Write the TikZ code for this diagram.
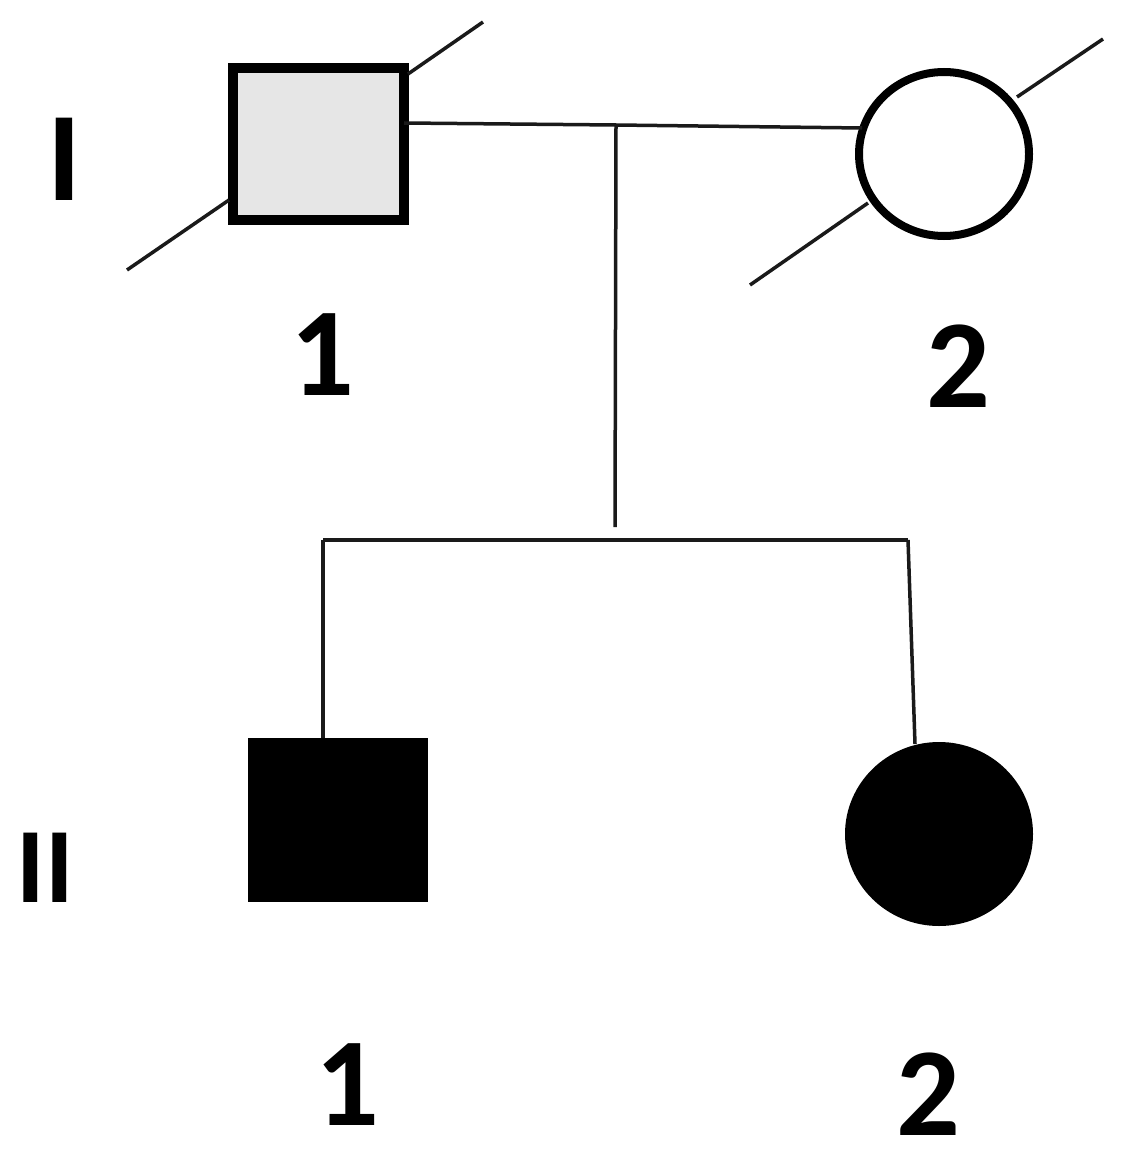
\documentclass[tikz,border=0pt]{standalone}
\usepackage{fontspec}
\setmainfont{Carlito}
\usetikzlibrary{shapes.geometric}
\definecolor{ink}{HTML}{1A1A1A}
\definecolor{carrier}{HTML}{E6E6E6}
\tikzset{
  lab/.style={font=\bfseries\fontsize{126}{126}\selectfont, inner sep=0pt, anchor=base},
  gen/.style={font=\bfseries\fontsize{127}{127}\selectfont, inner sep=0pt, anchor=base},
  conn/.style={draw=ink, line width=3.5pt},
  sib/.style={draw=ink, line width=4.5pt},
  slash/.style={draw=ink, line width=3.5pt},
  male/.style={rectangle, inner sep=0pt, outer sep=0pt},
  female/.style={ellipse, inner sep=0pt, outer sep=0pt}
}
\begin{document}
\begin{tikzpicture}[x=1pt,y=-1pt]
\useasboundingbox (0,0) rectangle (1121,1153);
% generation I
\node[male, draw=black, fill=carrier, line width=10pt, minimum width=171pt, minimum height=152pt] (i1) at (318.5,144) {};
\node[female, draw=black, fill=white, line width=8pt, minimum width=170pt, minimum height=164pt] (i2) at (944,154) {};
% deceased slashes
\draw[slash] (127,270) -- (229,200);
\draw[slash] (408,74) -- (483,22);
\draw[slash] (750,285) -- (868,203);
\draw[slash] (1017,97) -- (1103,39);
% generation II
\node[male, fill=black, minimum width=180pt, minimum height=164pt] (ii1) at (338,820) {};
\node[female, fill=black, minimum width=188pt, minimum height=184pt] (ii2) at (939,834) {};
% connectors
\coordinate (m) at (616,125);
\coordinate (mb) at (615,527);
\coordinate (sl) at (323,540);
\coordinate (sr) at (908,540);
\coordinate (ii2top) at (915,744);
\draw[conn] ([yshift=21pt]i1.east) -- (m) -- ([yshift=26pt,xshift=3pt]i2.west);
\draw[conn] (m) -- (mb);
\draw[sib] (sl) -- (sr);
\draw[conn] (sl) -- (sl |- ii1.north);
\draw[conn] (sr) -- (ii2top);
% labels
\node[gen] (gI) at (64,200) {I};
\node[gen, font=\bfseries\fontsize{107}{107}\selectfont] (gII) at (45,902) {II};
\node[lab] (l11) at (322,395) {1};
\node[lab] (l12) at (958,407) {2};
\node[lab] (l21) at (347,1125) {1};
\node[lab] (l22) at (928,1135) {2};
\end{tikzpicture}
\end{document}
